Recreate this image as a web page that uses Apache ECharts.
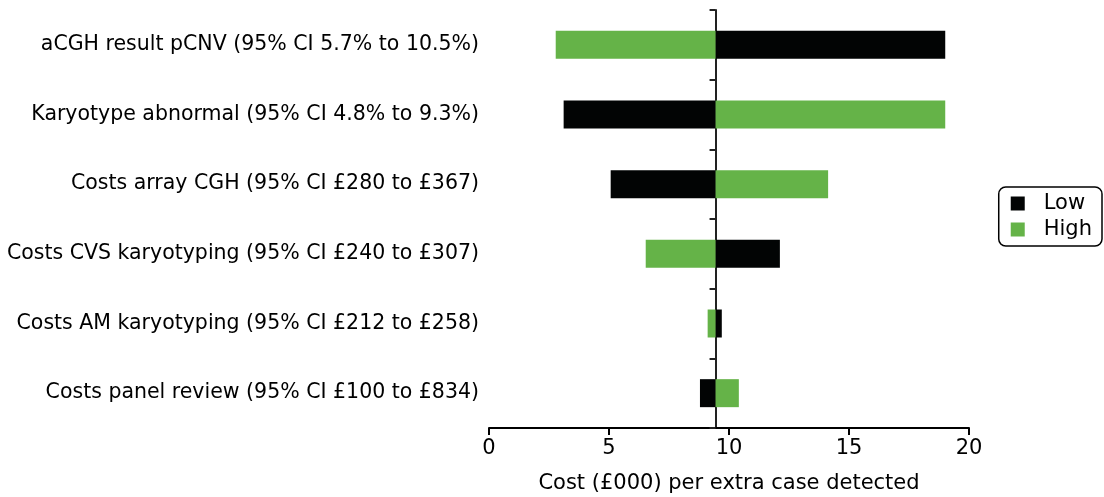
<!DOCTYPE html>
<html>
<head>
<meta charset="utf-8">
<script src="https://cdn.jsdelivr.net/npm/echarts@6/dist/echarts.min.js"></script>
<style>
  html, body { margin: 0; padding: 0; background: #fff; }
  #chart { width: 1104px; height: 497px; }
</style>
</head>
<body>
<div id="chart"></div>
<script>
// parameters of the tornado chart, top to bottom
const categories = [
  "aCGH result pCNV (95% CI 5.7% to 10.5%)",
  "Karyotype abnormal (95% CI 4.8% to 9.3%)",
  "Costs array CGH (95% CI £280 to £367)",
  "Costs CVS karyotyping (95% CI £240 to £307)",
  "Costs AM karyotyping (95% CI £212 to £258)",
  "Costs panel review (95% CI £100 to £834)"
];
// cost (£000) per extra case detected
const baseCase = 9.44;
const lowValues = [19.01, 3.11, 5.07, 12.12, 9.7, 8.79];
const highValues = [2.78, 19.01, 14.13, 6.53, 9.11, 10.41];
const xTicks = [0, 5, 10, 15, 20];

const BLACK = "#020404";
const GREEN = "#65b348";
const FONT = "DejaVu Sans";

const chartDom = document.getElementById("chart");
const myChart = echarts.init(chartDom);

const option = {
  animation: false,
  textStyle: { fontFamily: FONT, color: "#000" },
  grid: {
    left: 489, right: 135, top: 10, bottom: 69,
    containLabel: false,
    outerBoundsMode: "none"
  },
  legend: {
    orient: "vertical",
    right: 2,
    top: 187,
    data: ["Low", "High"],
    itemWidth: 14,
    itemHeight: 14,
    itemGap: 5,
    padding: [6, 10, 6, 12],
    borderColor: "#000",
    borderWidth: 1.5,
    borderRadius: 7,
    icon: "rect",
    textStyle: { fontSize: 21, color: "#000", fontFamily: FONT, padding: [0, 0, 0, 14] }
  },
  xAxis: [
    {
      type: "value",
      min: xTicks[0],
      max: xTicks[xTicks.length - 1],
      interval: 5,
      name: "Cost (£000) per extra case detected",
      nameLocation: "middle",
      nameGap: 45,
      nameTextStyle: { fontSize: 21, color: "#000", fontFamily: FONT },
      axisLine: { show: true, onZero: false, lineStyle: { color: "#000", width: 2 } },
      axisTick: { show: true, length: 7, lineStyle: { color: "#000", width: 2 } },
      axisLabel: { fontSize: 21, color: "#000", margin: 10, fontFamily: FONT },
      splitLine: { show: false }
    },
    {
      // same scale shifted so that the base case sits at zero
      type: "value",
      show: false,
      min: xTicks[0] - baseCase,
      max: xTicks[xTicks.length - 1] - baseCase,
      splitLine: { show: false }
    }
  ],
  yAxis: [
    {
      type: "category",
      data: categories,
      inverse: true,
      axisLine: {
        show: true,
        onZero: true,
        onZeroAxisIndex: 1,
        lineStyle: { color: "#222", width: 2 }
      },
      axisTick: { show: true, length: 6, lineStyle: { color: "#222", width: 2 } },
      axisLabel: { show: false },
      splitLine: { show: false }
    },
    {
      type: "category",
      data: categories,
      inverse: true,
      position: "left",
      axisLine: { show: false, onZero: false },
      axisTick: { show: false },
      axisLabel: { fontSize: 20.5, color: "#000", margin: 10, fontFamily: FONT, padding: [2, 0, 0, 0] },
      splitLine: { show: false }
    }
  ],
  series: [
    {
      name: "Low",
      type: "bar",
      xAxisIndex: 1,
      yAxisIndex: 0,
      barWidth: 28,
      barGap: "-100%",
      itemStyle: { color: BLACK },
      data: lowValues.map(v => v - baseCase)
    },
    {
      name: "High",
      type: "bar",
      xAxisIndex: 1,
      yAxisIndex: 0,
      barWidth: 28,
      barGap: "-100%",
      itemStyle: { color: GREEN },
      data: highValues.map(v => v - baseCase)
    }
  ]
};

myChart.setOption(option);
</script>
</body>
</html>
